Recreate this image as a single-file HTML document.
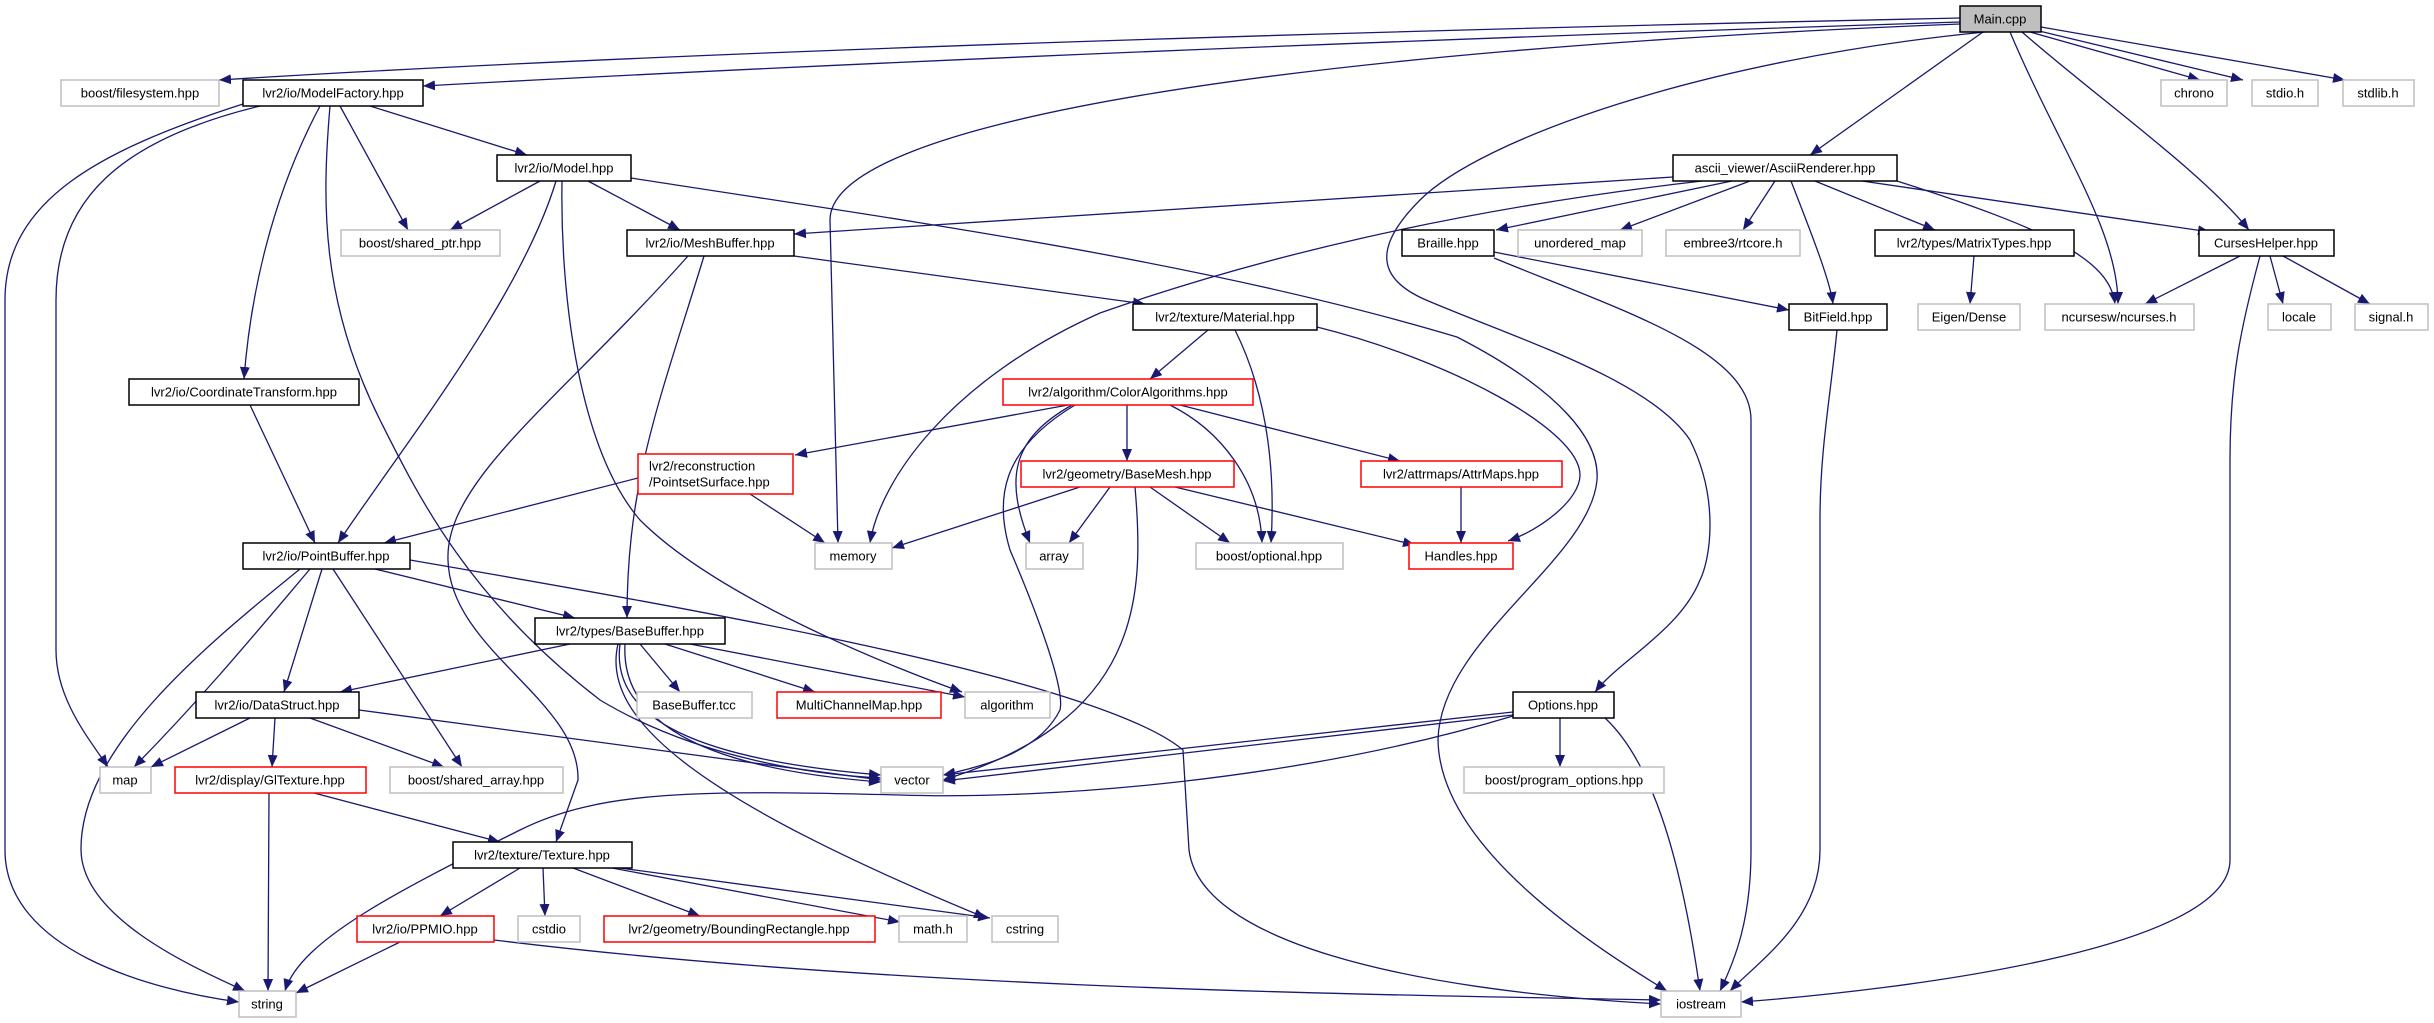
<!DOCTYPE html>
<html><head><meta charset="utf-8"><style>
html,body{margin:0;padding:0;background:#fff}
svg{display:block}
text{font-family:"Liberation Sans",sans-serif;font-size:13px;fill:#000;text-anchor:middle;dominant-baseline:central}
.e{fill:none;stroke:#191970;stroke-width:1.3}
.b{fill:#fff;stroke:#000;stroke-width:1.5}
.g{fill:#fff;stroke:#bfbfbf;stroke-width:1.5}
.r{fill:#fff;stroke:#ff0000;stroke-width:1.5}
</style></head><body>
<svg width="2434" height="1023" viewBox="0 0 2434 1023" xmlns="http://www.w3.org/2000/svg">
<defs><marker id="a" markerUnits="userSpaceOnUse" markerWidth="14" markerHeight="10" refX="12" refY="5" orient="auto"><path d="M0,0 L12,5 L0,10 z" fill="#191970"/></marker></defs>
<g class="e" marker-end="url(#a)">
<!-- Main -->
<path d="M1960,18 C1400,30 700,50 219,80"/>
<path d="M1960,22 C1400,40 900,60 423,86"/>
<path d="M1960,24 C1300,50 830,120 830,220 L838,543"/>
<path d="M1985,32 C1700,60 1480,140 1420,200 C1370,250 1380,280 1426,300 C1520,340 1650,380 1690,440 C1720,500 1710,560 1700,580 C1680,630 1620,660 1595,692"/>
<path d="M1983,32 L1810,155"/>
<path d="M2010,32 C2060,150 2118,230 2118,304"/>
<path d="M2022,32 C2100,100 2200,170 2249,230"/>
<path d="M2030,32 L2200,80"/>
<path d="M2035,30 L2243,80"/>
<path d="M2041,27 L2345,80"/>
<!-- AsciiRenderer -->
<path d="M1673,177 L794,234"/>
<path d="M1702,181 C1450,210 1250,260 1100,313 C950,380 880,480 870,543"/>
<path d="M1732,181 L1496,230"/>
<path d="M1750,181 L1620,230"/>
<path d="M1775,181 L1743,230"/>
<path d="M1791,181 C1810,230 1830,280 1833,304"/>
<path d="M1815,181 L1935,230"/>
<path d="M1862,181 L2210,232"/>
<path d="M1897,181 C2050,230 2110,260 2115,304"/>
<!-- Braille, Matrix, Curses, BitField -->
<path d="M1494,252 L1789,310"/>
<path d="M1494,258 C1620,310 1751,350 1751,420 L1751,850 C1751,920 1735,960 1720,991"/>
<path d="M1974,256 L1970,304"/>
<path d="M2240,256 L2145,304"/>
<path d="M2270,256 L2283,304"/>
<path d="M2283,256 L2370,304"/>
<path d="M2260,256 C2240,330 2230,380 2230,460 L2230,860 C2230,950 1900,990 1741,1002"/>
<path d="M1837,330 C1830,400 1820,450 1820,520 L1820,850 C1820,920 1760,960 1730,991"/>
<!-- ModelFactory -->
<path d="M243,104 C100,150 5,200 5,300 L5,850 C5,950 150,990 239,1002"/>
<path d="M260,106 C120,140 56,200 56,300 L56,650 C56,700 90,740 108,767"/>
<path d="M320,106 C270,200 250,300 244,379"/>
<path d="M330,106 C322,200 320,300 380,420 C420,500 470,600 600,700 C700,760 820,775 881,778"/>
<path d="M340,106 L408,230"/>
<path d="M370,106 L527,155"/>
<!-- Model -->
<path d="M540,181 L450,230"/>
<path d="M556,181 C520,300 400,450 338,543"/>
<path d="M562,181 C560,300 580,450 640,520 C720,600 900,670 962,692"/>
<path d="M588,181 L680,230"/>
<path d="M631,178 C900,220 1200,260 1457,337 C1560,390 1600,440 1597,480 C1590,560 1440,640 1438,740 C1440,850 1600,950 1667,991"/>
<!-- MeshBuffer -->
<path d="M688,256 C560,400 445,480 448,560 C450,650 580,700 578,780 L556,842"/>
<path d="M704,256 C660,400 627,480 627,618"/>
<path d="M794,256 L1145,304"/>
<!-- Material -->
<path d="M1208,330 L1150,379"/>
<path d="M1235,330 C1270,400 1275,480 1271,543"/>
<path d="M1317,327 C1450,360 1580,430 1580,475 C1580,500 1540,530 1508,541"/>
<!-- ColorAlgorithms -->
<path d="M1068,405 L795,455"/>
<path d="M1075,405 C1000,450 995,500 1010,550 C1040,620 1065,690 1060,710 C1040,750 990,765 943,775"/>
<path d="M1072,405 C1010,440 1005,480 1030,543"/>
<path d="M1127,405 L1127,461"/>
<path d="M1170,405 C1220,430 1260,480 1262,543"/>
<path d="M1180,405 L1400,461"/>
<!-- PointsetSurface -->
<path d="M638,478 L384,543"/>
<path d="M750,494 L825,543"/>
<path d="M1080,487 L892,548"/>
<!-- BaseMesh -->
<path d="M1110,487 L1069,543"/>
<path d="M1150,487 L1230,543"/>
<path d="M1175,487 L1415,545"/>
<path d="M1135,487 C1145,600 1140,720 943,780"/>
<path d="M1461,487 L1461,543"/>
<!-- CoordinateTransform -->
<path d="M250,405 L315,543"/>
<!-- PointBuffer -->
<path d="M300,569 C200,650 80,750 81,850 C82,920 200,970 245,991"/>
<path d="M310,569 C250,640 200,700 134,767"/>
<path d="M322,569 L284,692"/>
<path d="M333,569 L462,767"/>
<path d="M375,569 L575,618"/>
<path d="M410,560 C700,610 1100,680 1183,750 L1189,850 C1200,940 1400,990 1661,1004"/>
<!-- BaseBuffer -->
<path d="M570,644 L340,692"/>
<path d="M620,644 C610,720 700,760 881,775"/>
<path d="M625,644 C620,730 720,770 881,782"/>
<path d="M618,644 C600,720 700,800 986,918"/>
<path d="M640,644 L680,692"/>
<path d="M665,644 L815,692"/>
<path d="M690,644 L965,697"/>
<!-- DataStruct -->
<path d="M250,718 L151,767"/>
<path d="M275,718 L272,767"/>
<path d="M310,718 L444,767"/>
<path d="M359,710 L881,780"/>
<!-- GlTexture -->
<path d="M269,793 L268,991"/>
<path d="M314,793 L500,842"/>
<!-- Texture -->
<path d="M520,868 L440,916"/>
<path d="M543,868 L545,916"/>
<path d="M573,868 L700,916"/>
<path d="M612,868 L900,922"/>
<path d="M620,868 L990,918"/>
<path d="M400,942 L296,993"/>
<path d="M494,940 C900,990 1400,995 1661,1000"/>
<!-- Options -->
<path d="M1513,712 L943,775"/>
<path d="M1513,715 L943,781"/>
<path d="M1513,716 C1300,780 1050,800 900,795 C700,790 600,790 520,830 C400,890 300,940 285,991"/>
<path d="M1560,718 L1560,767"/>
<path d="M1605,718 C1650,760 1680,850 1700,991"/>
</g>
<!-- nodes -->
<rect x="1960" y="6" width="81" height="26" fill="#bfbfbf" stroke="#000" stroke-width="1.5"/><text x="2000" y="19">Main.cpp</text>
<rect class="g" x="61" y="80" width="158" height="26"/><text x="140" y="93">boost/filesystem.hpp</text>
<rect class="b" x="243" y="80" width="180" height="26"/><text x="333" y="93">lvr2/io/ModelFactory.hpp</text>
<rect class="g" x="2161" y="80" width="66" height="26"/><text x="2194" y="93">chrono</text>
<rect class="g" x="2252" y="80" width="66" height="26"/><text x="2285" y="93">stdio.h</text>
<rect class="g" x="2343" y="80" width="71" height="26"/><text x="2378" y="93">stdlib.h</text>
<rect class="b" x="497" y="155" width="134" height="26"/><text x="564" y="168">lvr2/io/Model.hpp</text>
<rect class="b" x="1673" y="155" width="224" height="26"/><text x="1785" y="168">ascii_viewer/AsciiRenderer.hpp</text>
<rect class="g" x="341" y="230" width="159" height="26"/><text x="420" y="243">boost/shared_ptr.hpp</text>
<rect class="b" x="627" y="230" width="167" height="26"/><text x="710" y="243">lvr2/io/MeshBuffer.hpp</text>
<rect class="b" x="1402" y="230" width="92" height="26"/><text x="1448" y="243">Braille.hpp</text>
<rect class="g" x="1518" y="230" width="124" height="26"/><text x="1580" y="243">unordered_map</text>
<rect class="g" x="1666" y="230" width="134" height="26"/><text x="1733" y="243">embree3/rtcore.h</text>
<rect class="b" x="1875" y="230" width="199" height="26"/><text x="1974" y="243">lvr2/types/MatrixTypes.hpp</text>
<rect class="b" x="2199" y="230" width="135" height="26"/><text x="2266" y="243">CursesHelper.hpp</text>
<rect class="b" x="1133" y="304" width="184" height="26"/><text x="1225" y="317">lvr2/texture/Material.hpp</text>
<rect class="b" x="1789" y="304" width="98" height="26"/><text x="1838" y="317">BitField.hpp</text>
<rect class="g" x="1918" y="304" width="102" height="26"/><text x="1969" y="317">Eigen/Dense</text>
<rect class="g" x="2045" y="304" width="149" height="26"/><text x="2119" y="317">ncursesw/ncurses.h</text>
<rect class="g" x="2268" y="304" width="63" height="26"/><text x="2299" y="317">locale</text>
<rect class="g" x="2355" y="304" width="73" height="26"/><text x="2391" y="317">signal.h</text>
<rect class="b" x="129" y="379" width="230" height="26"/><text x="244" y="392">lvr2/io/CoordinateTransform.hpp</text>
<rect class="r" x="1003" y="379" width="250" height="26"/><text x="1128" y="392">lvr2/algorithm/ColorAlgorithms.hpp</text>
<rect class="r" x="638" y="454" width="155" height="40"/><text x="649" y="466" style="text-anchor:start">lvr2/reconstruction</text><text x="649" y="482" style="text-anchor:start">/PointsetSurface.hpp</text>
<rect class="r" x="1021" y="461" width="213" height="26"/><text x="1127" y="474">lvr2/geometry/BaseMesh.hpp</text>
<rect class="r" x="1361" y="461" width="201" height="26"/><text x="1461" y="474">lvr2/attrmaps/AttrMaps.hpp</text>
<rect class="b" x="243" y="543" width="167" height="26"/><text x="326" y="556">lvr2/io/PointBuffer.hpp</text>
<rect class="g" x="815" y="543" width="77" height="26"/><text x="853" y="556">memory</text>
<rect class="g" x="1026" y="543" width="57" height="26"/><text x="1054" y="556">array</text>
<rect class="g" x="1196" y="543" width="147" height="26"/><text x="1269" y="556">boost/optional.hpp</text>
<rect class="r" x="1409" y="543" width="104" height="26"/><text x="1461" y="556">Handles.hpp</text>
<rect class="b" x="535" y="618" width="190" height="26"/><text x="630" y="631">lvr2/types/BaseBuffer.hpp</text>
<rect class="b" x="196" y="692" width="163" height="26"/><text x="277" y="705">lvr2/io/DataStruct.hpp</text>
<rect class="g" x="637" y="692" width="115" height="26"/><text x="694" y="705">BaseBuffer.tcc</text>
<rect class="r" x="777" y="692" width="164" height="26"/><text x="859" y="705">MultiChannelMap.hpp</text>
<rect class="g" x="965" y="692" width="85" height="26"/><text x="1007" y="705">algorithm</text>
<rect class="b" x="1513" y="692" width="101" height="26"/><text x="1563" y="705">Options.hpp</text>
<rect class="g" x="100" y="767" width="51" height="26"/><text x="125" y="780">map</text>
<rect class="r" x="175" y="767" width="191" height="26"/><text x="270" y="780">lvr2/display/GlTexture.hpp</text>
<rect class="g" x="390" y="767" width="173" height="26"/><text x="476" y="780">boost/shared_array.hpp</text>
<rect class="g" x="881" y="767" width="62" height="26"/><text x="912" y="780">vector</text>
<rect class="g" x="1464" y="767" width="200" height="26"/><text x="1564" y="780">boost/program_options.hpp</text>
<rect class="b" x="453" y="842" width="179" height="26"/><text x="542" y="855">lvr2/texture/Texture.hpp</text>
<rect class="r" x="357" y="916" width="137" height="26"/><text x="425" y="929">lvr2/io/PPMIO.hpp</text>
<rect class="g" x="518" y="916" width="62" height="26"/><text x="549" y="929">cstdio</text>
<rect class="r" x="604" y="916" width="271" height="26"/><text x="739" y="929">lvr2/geometry/BoundingRectangle.hpp</text>
<rect class="g" x="899" y="916" width="68" height="26"/><text x="933" y="929">math.h</text>
<rect class="g" x="992" y="916" width="66" height="26"/><text x="1025" y="929">cstring</text>
<rect class="g" x="239" y="991" width="57" height="26"/><text x="267" y="1004">string</text>
<rect class="g" x="1661" y="991" width="80" height="26"/><text x="1701" y="1004">iostream</text>
</svg>
</body></html>
